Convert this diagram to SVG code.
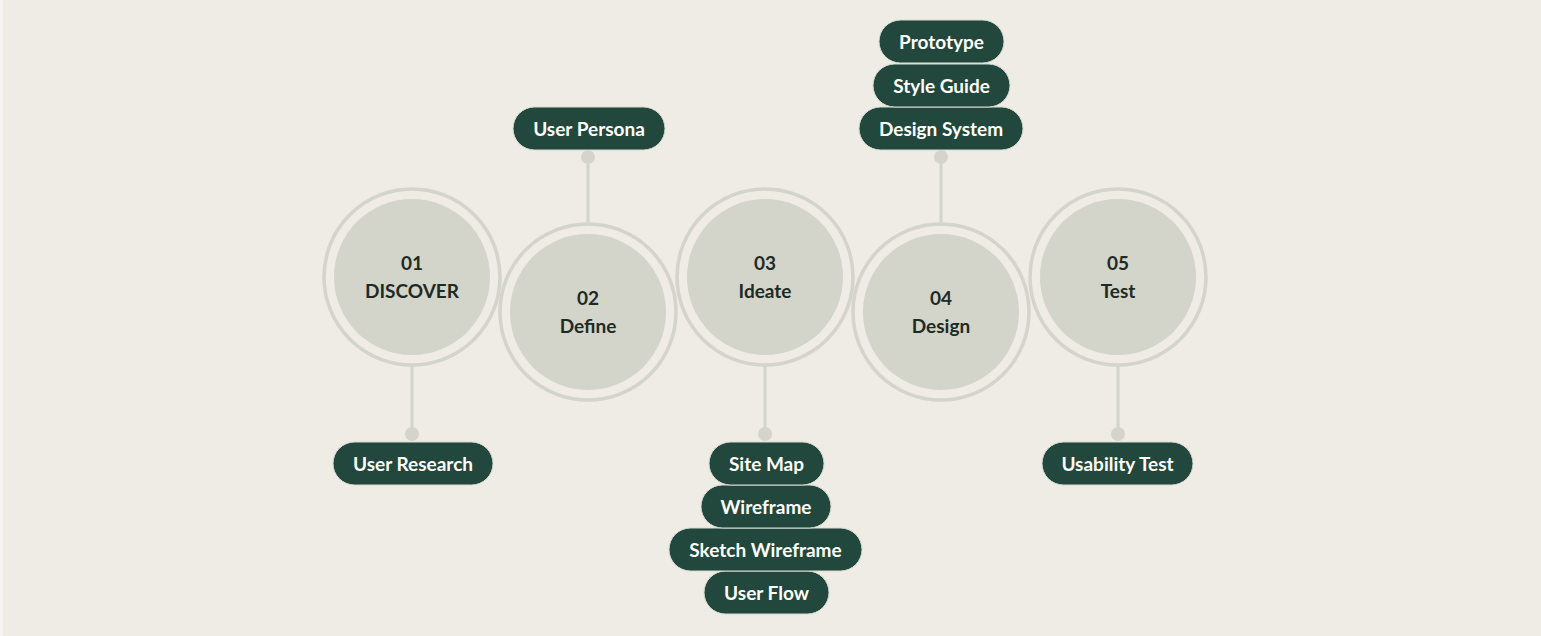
<svg xmlns="http://www.w3.org/2000/svg" width="1541" height="636" viewBox="0 0 1541 636">
<style>
.ring{fill:#EFEBE5;stroke:#D3D4CB;stroke-width:3.5}
.core{fill:#D3D4CA}
.num{font-family:Lato,"Noto Sans",sans-serif;font-weight:700;font-size:19px;fill:#1E2B25;text-anchor:middle}
.pill{fill:#22473C;stroke:#D9DCD4;stroke-width:1}
.pt{font-family:Lato,"Noto Sans",sans-serif;font-weight:700;font-size:19px;fill:#FFFFFF;text-anchor:middle}
.ln{stroke:#D3D4CB;stroke-width:3;fill:none}
.dot{fill:#D3D4CB}
</style>
<rect x="0" y="0" width="1541" height="636" fill="#EFEBE5"/>
<rect x="0" y="0" width="3" height="636" fill="#F6F4F3"/>
<g id="connectors">
<line class="ln" x1="412" y1="366" x2="412" y2="434"/>
<circle class="dot" cx="412" cy="434" r="7"/>
<line class="ln" x1="588" y1="157" x2="588" y2="222"/>
<circle class="dot" cx="588" cy="157" r="7"/>
<line class="ln" x1="765" y1="366" x2="765" y2="434"/>
<circle class="dot" cx="765" cy="434" r="7"/>
<line class="ln" x1="941" y1="157" x2="941" y2="222"/>
<circle class="dot" cx="941" cy="157" r="7"/>
<line class="ln" x1="1118" y1="366" x2="1118" y2="434"/>
<circle class="dot" cx="1118" cy="434" r="7"/>
</g>
<g id="step01">
<circle class="ring" cx="412" cy="277" r="88"/>
<circle class="core" cx="412" cy="277" r="78"/>
<text class="num" x="412" y="270">01</text>
<text class="num" x="412" y="298">DISCOVER</text>
</g>
<g id="step02">
<circle class="ring" cx="588" cy="312" r="88"/>
<circle class="core" cx="588" cy="312" r="78"/>
<text class="num" x="588" y="305">02</text>
<text class="num" x="588" y="333">Define</text>
</g>
<g id="step03">
<circle class="ring" cx="765" cy="277" r="88"/>
<circle class="core" cx="765" cy="277" r="78"/>
<text class="num" x="765" y="270">03</text>
<text class="num" x="765" y="298">Ideate</text>
</g>
<g id="step04">
<circle class="ring" cx="941" cy="312" r="88"/>
<circle class="core" cx="941" cy="312" r="78"/>
<text class="num" x="941" y="305">04</text>
<text class="num" x="941" y="333">Design</text>
</g>
<g id="step05">
<circle class="ring" cx="1118" cy="277" r="88"/>
<circle class="core" cx="1118" cy="277" r="78"/>
<text class="num" x="1118" y="270">05</text>
<text class="num" x="1118" y="298">Test</text>
</g>
<g id="pill-user-research">
<rect class="pill" x="333" y="442" width="160" height="43" rx="21.5"/>
<text class="pt" x="413" y="471">User Research</text>
</g>
<g id="pill-user-persona">
<rect class="pill" x="513" y="107" width="152" height="43" rx="21.5"/>
<text class="pt" x="589" y="136">User Persona</text>
</g>
<g id="pill-user-flow">
<rect class="pill" x="704" y="571" width="125" height="43" rx="21.5"/>
<text class="pt" x="766.5" y="600">User Flow</text>
</g>
<g id="pill-sketch-wireframe">
<rect class="pill" x="669" y="528" width="193" height="43" rx="21.5"/>
<text class="pt" x="765.5" y="557">Sketch Wireframe</text>
</g>
<g id="pill-wireframe">
<rect class="pill" x="701" y="485" width="130" height="43" rx="21.5"/>
<text class="pt" x="766" y="514">Wireframe</text>
</g>
<g id="pill-site-map">
<rect class="pill" x="709" y="442" width="115" height="43" rx="21.5"/>
<text class="pt" x="766.5" y="471">Site Map</text>
</g>
<g id="pill-design-system">
<rect class="pill" x="859" y="107" width="164" height="43" rx="21.5"/>
<text class="pt" x="941" y="136">Design System</text>
</g>
<g id="pill-style-guide">
<rect class="pill" x="873" y="64" width="137" height="43" rx="21.5"/>
<text class="pt" x="941.5" y="93">Style Guide</text>
</g>
<g id="pill-prototype">
<rect class="pill" x="879" y="20" width="125" height="43" rx="21.5"/>
<text class="pt" x="941.5" y="49">Prototype</text>
</g>
<g id="pill-usability-test">
<rect class="pill" x="1042" y="442" width="151" height="43" rx="21.5"/>
<text class="pt" x="1117.5" y="471">Usability Test</text>
</g>
</svg>
